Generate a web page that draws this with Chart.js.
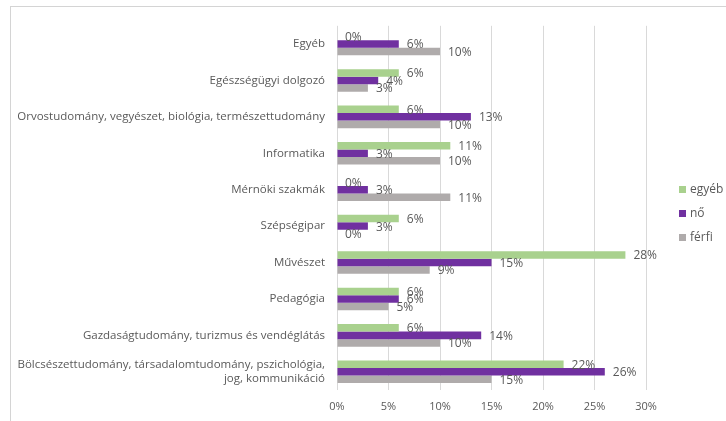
<!DOCTYPE html>
<html>
<head>
    <meta charset="UTF-8">
    <title>Szakmák</title>
    <script src="https://cdn.jsdelivr.net/npm/chart.js"></script>
    <style>
        body { margin: 0; background: #fff; }
        #frame { position: absolute; left: 10px; top: 6px; width: 800px; height: 500px;
                 border-top: 1px solid #d4d4d4; border-left: 1px solid #d4d4d4; }
        #wrap { position: absolute; left: 0; top: 0; width: 726px; height: 421px; }
    </style>
</head>
<body>
    <div id="frame"></div>
    <div id="wrap"><canvas id="chart" width="726" height="421"></canvas></div>
    <script>
        var categories = [
            'Egyéb',
            'Egészségügyi dolgozó',
            'Orvostudomány, vegyészet, biológia, természettudomány',
            'Informatika',
            'Mérnöki szakmák',
            'Szépségipar',
            'Művészet',
            'Pedagógia',
            'Gazdaságtudomány, turizmus és vendéglátás',
            ['Bölcsészettudomány, társadalomtudomány, pszichológia,', 'jog, kommunikáció']
        ];
        var egyeb = [0, 6, 6, 11, 0, 6, 28, 6, 6, 22];
        var no = [6, 4, 13, 3, 3, 3, 15, 6, 14, 26];
        var ferfi = [10, 3, 10, 10, 11, 0, 9, 5, 10, 15];
        var xTicks = [0, 5, 10, 15, 20, 25, 30];

        var font = "'Open Sans', 'Liberation Sans', sans-serif";
        var grey = '#595959';

        // szazalek feliratok a rudak vegen
        var valueLabels = {
            id: 'valueLabels',
            afterDatasetsDraw: function(chart) {
                var ctx = chart.ctx;
                ctx.save();
                ctx.font = '12px ' + font;
                ctx.fillStyle = grey;
                ctx.textAlign = 'left';
                ctx.textBaseline = 'middle';
                chart.data.datasets.forEach(function(ds, i) {
                    chart.getDatasetMeta(i).data.forEach(function(bar, j) {
                        ctx.fillText(ds.data[j] + '%', bar.x + 8, bar.y + 1);
                    });
                });
                ctx.restore();
            }
        };

        // jelmagyarazat jobb oldalt
        var sideLegend = {
            id: 'sideLegend',
            afterDraw: function(chart) {
                var ctx = chart.ctx;
                var x = chart.chartArea.right + 33;
                var y = 190;
                ctx.save();
                ctx.font = '12px ' + font;
                ctx.textAlign = 'left';
                ctx.textBaseline = 'middle';
                chart.data.datasets.forEach(function(ds, i) {
                    ctx.fillStyle = ds.backgroundColor;
                    ctx.fillRect(x, y + i * 24 - 4, 7, 7);
                    ctx.fillStyle = grey;
                    ctx.fillText(ds.label, x + 11, y + i * 24);
                });
                ctx.restore();
            }
        };

        var chart = new Chart(document.getElementById('chart'), {
            type: 'bar',
            data: {
                labels: categories,
                datasets: [
                    { label: 'egyéb', data: egyeb, backgroundColor: '#a9d18e' },
                    { label: 'nő', data: no, backgroundColor: '#7030a0' },
                    { label: 'férfi', data: ferfi, backgroundColor: '#afabab' }
                ]
            },
            options: {
                indexAxis: 'y',
                responsive: false,
                animation: false,
                categoryPercentage: 0.62,
                barPercentage: 1,
                layout: { padding: { top: 22, right: 80, bottom: 0, left: 0 } },
                plugins: {
                    legend: { display: false },
                    tooltip: { enabled: false }
                },
                scales: {
                    x: {
                        min: 0, max: 30,
                        afterBuildTicks: function(s) { s.ticks = xTicks.map(function(v) { return { value: v }; }); },
                        afterFit: function(s) { s.height = 31; },
                        grid: { color: '#d9d9d9', drawTicks: false },
                        border: { display: false },
                        ticks: {
                            padding: 10, color: grey, font: { family: font, size: 11 },
                            callback: function(v) { return v + '%'; }
                        }
                    },
                    y: {
                        afterFit: function(s) { s.width = 337; },
                        grid: { display: false, drawTicks: false },
                        border: { display: false },
                        ticks: { padding: 12, color: grey, font: { family: font, size: 11.5 } }
                    }
                }
            },
            plugins: [valueLabels, sideLegend]
        });
    </script>
</body>
</html>
